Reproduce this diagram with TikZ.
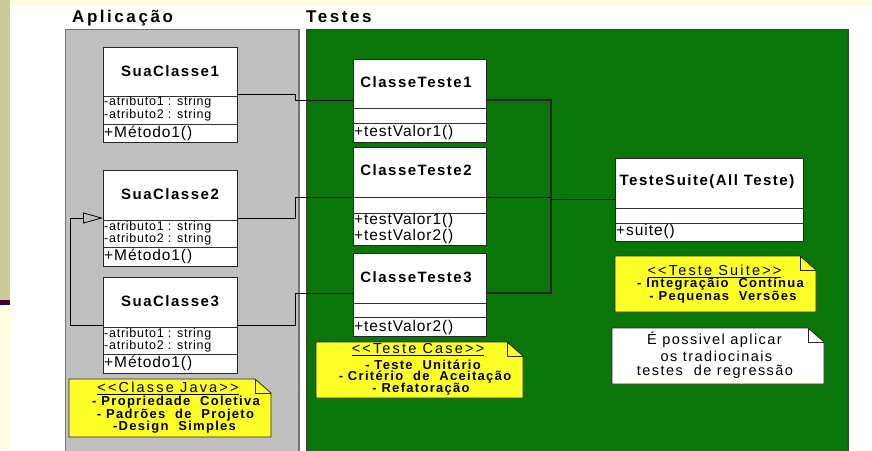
\documentclass[tikz,border=0pt]{standalone}
\usepackage{fontspec}
\setmainfont{Liberation Sans}
\newfontfamily\umlsix[LetterSpace=6]{Liberation Sans}
\newfontfamily\umlten[LetterSpace=10]{Liberation Sans}
\newfontfamily\umlfif[LetterSpace=15]{Liberation Sans}
\usetikzlibrary{arrows.meta}
\definecolor{lyellow}{RGB}{255,255,224}
\definecolor{khaki}{RGB}{204,204,153}
\definecolor{purp}{RGB}{60,0,60}
\definecolor{panelg}{RGB}{192,192,192}
\definecolor{greenp}{RGB}{10,118,10}
\definecolor{noteyel}{RGB}{255,255,40}
\newcommand\drawnote[5]{%
  \filldraw[notestyle,fill=#1] (#2,#3) -- (#4-16,#3) -- (#4,#3+14) -- (#4,#5) -- (#2,#5) -- cycle;
  \draw[notestyle] (#4-16,#3) -- (#4-16,#3+14) -- (#4,#3+14);}
\begin{document}
\begin{tikzpicture}[x=1pt,y=-1pt,
  clsbox/.style={draw=black!85,fill=white,line width=0.8pt,inner sep=0pt,anchor=north west},
  div/.style={draw=black!80,line width=0.7pt},
  conn/.style={draw=black,line width=0.8pt},
  bus/.style={draw=black!85,line width=1.3pt},
  cname/.style={font=\umlten\bfseries\fontsize{15}{17}\selectfont,inner sep=0pt},
  attr/.style={font=\umlsix\fontsize{12.5}{14}\selectfont,inner sep=0pt,anchor=west},
  meth/.style={font=\umlsix\fontsize{15.5}{17}\selectfont,inner sep=0pt,anchor=west},
  ntitle/.style={font=\umlfif\fontsize{14.5}{16}\selectfont,inner sep=0pt},
  nline/.style={font=\umlten\bfseries\fontsize{13}{14}\selectfont,inner sep=0pt},
  wline/.style={font=\umlten\fontsize{14.5}{16}\selectfont,inner sep=0pt},
  ptitle/.style={font=\umlfif\bfseries\fontsize{17}{19}\selectfont,inner sep=0pt,anchor=base west},
  notestyle/.style={draw=black!85,line width=0.8pt}]
\useasboundingbox (0,0) rectangle (872,450);
% page background
\fill[white] (0,0) rectangle (872,450);
\fill[lyellow] (0,0) rectangle (872,6);
\fill[khaki] (0,0) rectangle (10,300);
\fill[purp] (0,300) rectangle (10,304.5);
\fill[lyellow] (0,304.5) rectangle (10,450);
% panel titles
\node[ptitle] (tapp) at (72,22.5) {Aplicação};
\node[ptitle] (ttes) at (306,22.5) {Testes};
% panels
\filldraw[fill=panelg,draw=black!55,line width=1.5pt] (65.5,29.5) rectangle (299,455);
\filldraw[fill=greenp,draw=black!75,line width=1.5pt] (307,29.5) rectangle (848,455);
% class boxes
\node[clsbox,minimum width=134pt,minimum height=95pt] (s1) at (103,47) {};
\node[clsbox,minimum width=134pt,minimum height=96pt] (s2) at (103,170) {};
\node[clsbox,minimum width=134pt,minimum height=96pt] (s3) at (103,277) {};
\node[clsbox,minimum width=133pt,minimum height=83pt] (t1) at (353,59) {};
\node[clsbox,minimum width=133pt,minimum height=98pt] (t2) at (353,147) {};
\node[clsbox,minimum width=133pt,minimum height=83pt] (t3) at (353,253) {};
\node[clsbox,minimum width=188pt,minimum height=83pt] (ts) at (615,158) {};
% connectors
\draw[conn] (s1.east |- 0,94) -- (295,94) -- (295,100) -- (t1.west |- 0,100);
\draw[conn] (s2.east |- 0,218) -- (295,218) -- (295,197) -- (t2.west |- 0,197);
\draw[conn] (s3.east |- 0,325) -- (295,325) -- (295,293) -- (t3.west |- 0,293);
\draw[bus] (t1.east |- 0,100) -- (551,100) -- (551,293) -- (t3.east |- 0,293);
\draw[conn] (t2.east |- 0,197) -- (551,197);
\draw[conn] (551,199) -- (ts.west |- 0,199);
\draw[conn,-{Triangle[open,length=20pt,width=11pt]}] (s3.west |- 0,325) -- (70,325) -- (70,218) -- (s2.west |- 0,218);
% compartments
\draw[div] (s1.west |- 0,96) -- (s1.east |- 0,96);
\draw[div] (s1.west |- 0,124) -- (s1.east |- 0,124);
\draw[div] (s2.west |- 0,220) -- (s2.east |- 0,220);
\draw[div] (s2.west |- 0,247) -- (s2.east |- 0,247);
\draw[div] (s3.west |- 0,327) -- (s3.east |- 0,327);
\draw[div] (s3.west |- 0,354) -- (s3.east |- 0,354);
\draw[div] (t1.west |- 0,108) -- (t1.east |- 0,108);
\draw[div] (t1.west |- 0,123) -- (t1.east |- 0,123);
\draw[div] (t2.west |- 0,197) -- (t2.east |- 0,197);
\draw[div] (t2.west |- 0,213) -- (t2.east |- 0,213);
\draw[div] (t3.west |- 0,303) -- (t3.east |- 0,303);
\draw[div] (t3.west |- 0,317) -- (t3.east |- 0,317);
\draw[div] (ts.west |- 0,208) -- (ts.east |- 0,208);
\draw[div] (ts.west |- 0,223) -- (ts.east |- 0,223);
% class texts
\node[cname] (s1n) at (170,71.5) {SuaClasse1};
\node[attr] (s1a) at (104,102.5) {-atributo1 : string};
\node[attr] (s1b) at (104,115) {-atributo2 : string};
\node[meth] (s1m) at (104,133) {+Método1()};
\node[cname] (s2n) at (170,194.5) {SuaClasse2};
\node[attr] (s2a) at (104,227) {-atributo1 : string};
\node[attr] (s2b) at (104,239.5) {-atributo2 : string};
\node[meth] (s2m) at (104,256.5) {+Método1()};
\node[cname] (s3n) at (170,301.5) {SuaClasse3};
\node[attr] (s3a) at (104,334) {-atributo1 : string};
\node[attr] (s3b) at (104,346.5) {-atributo2 : string};
\node[meth] (s3m) at (104,363.5) {+Método1()};
\node[cname] (t1n) at (416,82) {ClasseTeste1};
\node[meth] (t1m) at (354,132.5) {+testValor1()};
\node[cname] (t2n) at (416,170) {ClasseTeste2};
\node[meth] (t2m) at (354,220.5) {+testValor1()};
\node[meth] (t2p) at (354,236.5) {+testValor2()};
\node[cname] (t3n) at (416,277) {ClasseTeste3};
\node[meth] (t3m) at (354,327) {+testValor2()};
\node[cname] (tsn) at (707,182) {TesteSuite(All Teste)};
\node[meth] (tsm) at (616,231.5) {+suite()};
% notes
\drawnote{noteyel}{69}{379}{271}{437}
\node[ntitle] (jn0) at (168,388) {\underline{<<Classe Java>>}};
\node[nline] (jn1) at (176,402) {- Propriedade~ Coletiva};
\node[nline] (jn2) at (175.5,415) {- Padrões~ de~ Projeto};
\node[nline] (jn3) at (174.5,427.5) {-Design~ Simples};
\drawnote{noteyel}{316}{342}{523}{398}
\node[ntitle] (cn0) at (418,350) {\underline{<<Teste Case>>}};
\node[nline] (cn1) at (423,364.5) {- Teste~ Unitário};
\node[nline] (cn2) at (425,377) {- Critério~ de~ Aceitação};
\node[nline] (cn3) at (421,389) {- Refatoração};
\drawnote{noteyel}{615}{256}{816}{312}
\node[ntitle] (un0) at (714.5,271) {\underline{<<Teste Suite>>}};
\node[nline] (un1) at (720.5,284) {- Integraçãio~ Contínua};
\node[nline] (un2) at (723,297) {- Pequenas~ Versões};
\drawnote{white}{612}{328}{824}{384}
\node[wline] (wn1) at (714.5,339.5) {É possivel aplicar};
\node[wline] (wn2) at (716.5,356) {os tradiocinais};
\node[wline] (wn3) at (715,372) {testes~ de regressão};
\end{tikzpicture}
\end{document}
